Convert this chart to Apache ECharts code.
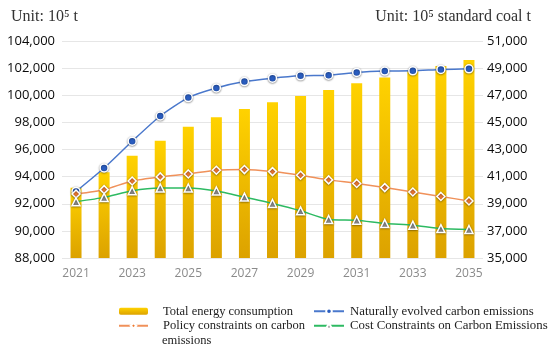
<!DOCTYPE html>
<html>
<head>
<meta charset="utf-8">
<script src="https://cdn.jsdelivr.net/npm/echarts@6/dist/echarts.min.js"></script>
<style>html,body{margin:0;padding:0;background:#fff;}#c{width:550px;height:351px;}</style>
</head>
<body>
<div id="c"></div>
<script>
const years = ['2021','2022','2023','2024','2025','2026','2027','2028','2029','2030','2031','2032','2033','2034','2035'];
const totalEnergy = [40180, 41320, 42540, 43650, 44680, 45380, 45990, 46480, 46950, 47390, 47880, 48300, 48790, 49160, 49600];
const naturalCarbon = [92910, 94640, 96610, 98470, 99830, 100540, 101010, 101260, 101430, 101480, 101680, 101780, 101800, 101900, 101950];
const policyCarbon = [92720, 93040, 93680, 93980, 94200, 94470, 94520, 94370, 94100, 93760, 93500, 93190, 92870, 92540, 92200];
const costCarbon = [92150, 92470, 92960, 93160, 93160, 92940, 92490, 92020, 91480, 90840, 90790, 90540, 90420, 90170, 90100];
const names = ['Total energy consumption', 'Naturally evolved carbon emissions', 'Policy constraints on carbon', 'Cost Constraints on Carbon Emissions'];

const chart = echarts.init(document.getElementById('c'));
const markerStyle = (fill) => ({color: fill, borderColor: '#fff', borderWidth: 1.5, shadowBlur: 2, shadowColor: 'rgba(0,0,0,0.45)', shadowOffsetY: 0.5});
const legendText = {fontFamily: 'Liberation Serif', fontSize: 12.5, color: '#222', lineHeight: 14.5};
chart.setOption({
  animation: false,
  title: [
    {text: 'Unit: 10\u2075 t', left: 6, top: 4, textStyle: {fontFamily: 'Liberation Serif', fontSize: 16, fontWeight: 'normal', color: '#333'}},
    {text: 'Unit: 10\u2075 standard coal t', right: 14, top: 4, textStyle: {fontFamily: 'Liberation Serif', fontSize: 16, fontWeight: 'normal', color: '#333'}}
  ],
  legend: [
    {orient: 'vertical', left: 118, top: 304, padding: 0, itemGap: 0, itemWidth: 29, itemHeight: 7, data: [names[0], names[2]],
     textStyle: Object.assign({}, legendText, {padding: [0, 0, 0, 10]})},
    {orient: 'vertical', left: 313, top: 304, padding: 0, itemGap: 0, itemWidth: 30, itemHeight: 7, data: [names[1], names[3]],
     textStyle: Object.assign({}, legendText, {fontSize: 12.8, padding: [0, 0, 0, 1]})}
  ],
  graphic: [
    {type: 'text', left: 162, top: 334, style: {text: 'emissions', font: '12.5px "Liberation Serif"', fill: '#222'}}
  ],
  grid: {left: 62, right: 67, top: 41, bottom: 93},
  xAxis: {
    type: 'category', data: years,
    axisLine: {show: false}, axisTick: {show: false},
    axisLabel: {interval: 1, color: '#8a8a8a', fontFamily: 'Open Sans', fontSize: 12, margin: 10}
  },
  yAxis: [
    {type: 'value', min: 88000, max: 104000, interval: 2000,
     axisLine: {show: false}, axisTick: {show: false},
     splitLine: {lineStyle: {color: '#e6e6e6'}},
     axisLabel: {color: '#0a0a0a', fontFamily: 'Open Sans', fontSize: 13, margin: 7,
       formatter: v => v.toLocaleString('en-US')}},
    {type: 'value', min: 35000, max: 51000, interval: 2000,
     axisLine: {show: false}, axisTick: {show: false}, splitLine: {show: false},
     axisLabel: {color: '#0a0a0a', fontFamily: 'Open Sans', fontSize: 13, margin: 4,
       formatter: v => v.toLocaleString('en-US')}}
  ],
  series: [
    {name: names[0], type: 'bar', yAxisIndex: 1, data: totalEnergy, barWidth: 11,
     itemStyle: {color: new echarts.graphic.LinearGradient(0, 0, 0, 1, [
       {offset: 0, color: '#FFD200'}, {offset: 1, color: '#DCA200'}])}},
    {name: names[1], type: 'line', yAxisIndex: 0, data: naturalCarbon, smooth: 0.2,
     symbol: 'circle', symbolSize: 8, lineStyle: {color: '#4A78CC', width: 1.5},
     itemStyle: markerStyle('#2A5DC0')},
    {name: names[2], type: 'line', yAxisIndex: 0, data: policyCarbon, smooth: 0.2,
     symbol: 'diamond', symbolSize: 8, lineStyle: {color: '#F0915A', width: 1.5},
     itemStyle: markerStyle('#EE7A30')},
    {name: names[3], type: 'line', yAxisIndex: 0, data: costCarbon, smooth: 0.2,
     symbol: 'triangle', symbolSize: 8, lineStyle: {color: '#2DBA62', width: 1.5},
     itemStyle: markerStyle('#8C8C8C')}
  ]
});
</script>
</body>
</html>
